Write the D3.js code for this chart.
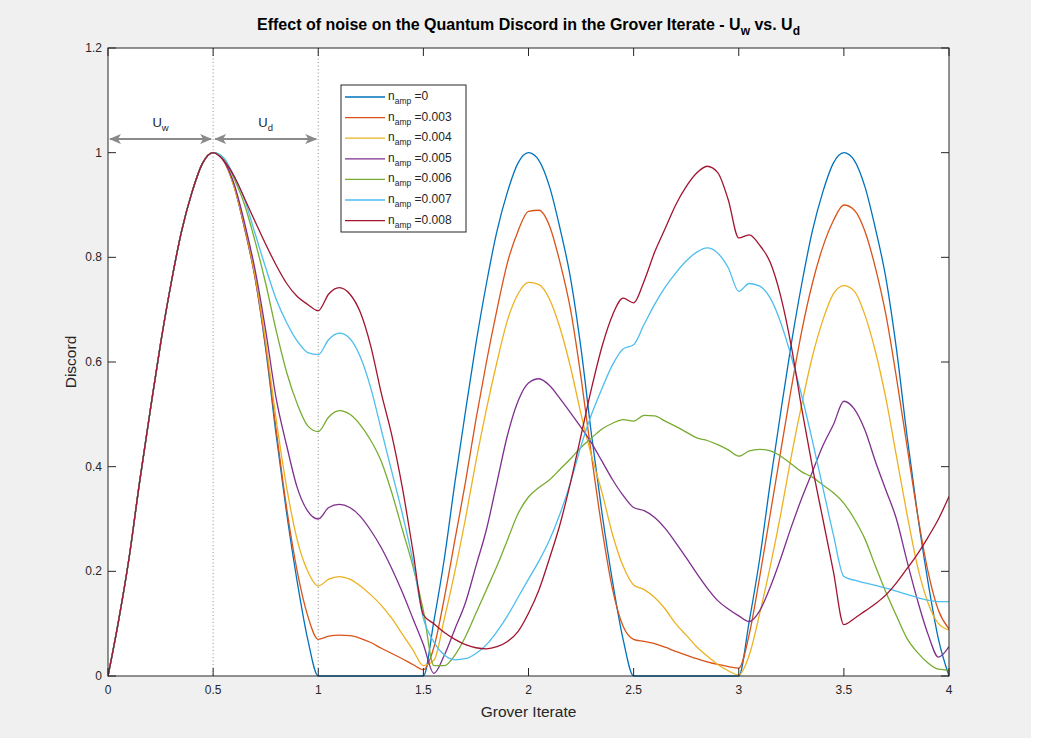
<!DOCTYPE html>
<html>
<head>
<meta charset="utf-8">
<script src="https://cdn.jsdelivr.net/npm/d3@7/dist/d3.min.js"></script>
<style>
  html, body { margin: 0; padding: 0; background: #ffffff; }
  svg { display: block; font-family: "Liberation Sans", Arial, Helvetica, sans-serif; }
</style>
</head>
<body>
<svg id="chart" width="1040" height="738"></svg>
<script>
// ---------- data ----------
const xs = [0,0.05,0.1,0.15,0.2,0.25,0.3,0.35,0.4,0.45,0.5,0.55,0.6,0.65,0.7,0.75,0.8,0.85,0.9,0.95,
  1,1.05,1.1,1.15,1.2,1.25,1.3,1.35,1.4,1.45,1.5,1.55,1.6,1.65,1.7,1.75,1.8,1.85,1.9,1.95,
  2,2.05,2.1,2.15,2.2,2.25,2.3,2.35,2.4,2.45,2.5,2.55,2.6,2.65,2.7,2.75,2.8,2.85,2.9,2.95,
  3,3.05,3.1,3.15,3.2,3.25,3.3,3.35,3.4,3.45,3.5,3.55,3.6,3.65,3.7,3.75,3.8,3.85,3.9,3.95,4];

const seriesLabels = ["0", "0.003", "0.004", "0.005", "0.006", "0.007", "0.008"];
const seriesColors = ["#0072BD", "#D95319", "#EDB120", "#7E2F8E", "#77AC30", "#4DBEEE", "#A2142F"];

const n000 = [0,0.105,0.225,0.37,0.505,0.635,0.75,0.85,0.925,0.98,1.0,
  0.985,0.935,0.855,0.76,0.625,0.46,0.31,0.18,0.07,0,
  0,0,0,0,0,0,0,0,0,0,
  0.105,0.225,0.37,0.505,0.635,0.75,0.85,0.925,0.98,1.0,
  0.985,0.935,0.855,0.76,0.625,0.46,0.31,0.18,0.07,0,
  0,0,0,0,0,0,0,0,0,0,
  0.105,0.225,0.37,0.505,0.635,0.75,0.85,0.925,0.98,1.0,
  0.985,0.935,0.855,0.76,0.625,0.46,0.31,0.18,0.07,0];

const n003 = [0,0.105,0.225,0.37,0.505,0.635,0.75,0.85,0.925,0.98,1.0,
  0.985,0.935,0.855,0.76,0.63,0.47,0.32,0.2,0.115,0.07,
  0.076,0.078,0.077,0.072,0.064,0.053,0.043,0.033,0.022,0.012,
  0.055,0.15,0.26,0.37,0.49,0.6,0.7,0.79,0.85,0.888,
  0.89,0.86,0.79,0.7,0.57,0.42,0.28,0.165,0.095,0.07,
  0.066,0.062,0.055,0.047,0.04,0.033,0.027,0.022,0.018,0.015,
  0.08,0.19,0.31,0.43,0.55,0.66,0.75,0.82,0.87,0.9,
  0.89,0.85,0.78,0.69,0.57,0.44,0.31,0.2,0.125,0.09];

const n004 = [0,0.105,0.225,0.37,0.505,0.635,0.75,0.85,0.925,0.98,1.0,
  0.985,0.935,0.86,0.765,0.64,0.49,0.36,0.26,0.2,0.172,
  0.185,0.19,0.185,0.172,0.155,0.135,0.11,0.08,0.05,0.02,
  0.03,0.11,0.2,0.3,0.41,0.51,0.6,0.68,0.73,0.752,
  0.748,0.72,0.665,0.59,0.5,0.42,0.35,0.27,0.21,0.174,
  0.165,0.15,0.128,0.1,0.078,0.056,0.038,0.022,0.01,0.002,
  0.04,0.12,0.21,0.31,0.42,0.52,0.61,0.68,0.73,0.746,
  0.735,0.69,0.62,0.53,0.42,0.31,0.21,0.14,0.1,0.088];

const n005 = [0,0.105,0.225,0.37,0.505,0.635,0.75,0.85,0.925,0.98,1.0,
  0.985,0.94,0.865,0.775,0.66,0.53,0.44,0.36,0.315,0.3,
  0.322,0.328,0.322,0.305,0.278,0.245,0.205,0.16,0.11,0.06,
  0.005,0.04,0.09,0.14,0.21,0.28,0.37,0.46,0.525,0.56,
  0.568,0.555,0.53,0.503,0.475,0.445,0.41,0.375,0.345,0.322,
  0.316,0.303,0.282,0.255,0.226,0.196,0.168,0.144,0.128,0.115,
  0.104,0.125,0.17,0.225,0.285,0.34,0.39,0.44,0.48,0.525,
  0.51,0.47,0.41,0.355,0.3,0.22,0.145,0.08,0.036,0.056];

const n006 = [0,0.105,0.225,0.37,0.505,0.635,0.75,0.85,0.925,0.98,1.0,
  0.99,0.95,0.9,0.83,0.75,0.66,0.58,0.52,0.478,0.467,
  0.495,0.507,0.5,0.48,0.45,0.41,0.35,0.28,0.21,0.125,
  0.02,0.02,0.04,0.075,0.12,0.165,0.21,0.26,0.31,0.342,
  0.36,0.375,0.395,0.415,0.437,0.455,0.472,0.483,0.49,0.487,
  0.498,0.497,0.487,0.477,0.466,0.455,0.45,0.442,0.432,0.42,
  0.43,0.433,0.43,0.42,0.405,0.39,0.38,0.365,0.35,0.33,
  0.3,0.262,0.21,0.16,0.115,0.072,0.045,0.025,0.013,0.011];

const n007 = [0,0.105,0.225,0.37,0.505,0.635,0.75,0.85,0.925,0.98,1.0,
  0.99,0.955,0.91,0.845,0.78,0.72,0.675,0.64,0.618,0.614,
  0.643,0.655,0.645,0.61,0.55,0.47,0.39,0.31,0.22,0.11,
  0.065,0.04,0.031,0.033,0.043,0.06,0.085,0.115,0.15,0.185,
  0.22,0.26,0.31,0.37,0.44,0.5,0.55,0.595,0.625,0.633,
  0.672,0.71,0.743,0.77,0.793,0.81,0.818,0.808,0.78,0.735,
  0.75,0.745,0.722,0.675,0.61,0.535,0.45,0.36,0.27,0.19,
  0.183,0.178,0.173,0.168,0.162,0.156,0.15,0.145,0.142,0.142];

const n008 = [0,0.105,0.225,0.37,0.505,0.635,0.75,0.85,0.925,0.98,1.0,
  0.985,0.955,0.912,0.868,0.825,0.785,0.75,0.725,0.71,0.698,
  0.73,0.742,0.73,0.695,0.63,0.54,0.46,0.36,0.24,0.117,
  0.1,0.083,0.07,0.06,0.054,0.052,0.056,0.066,0.085,0.12,
  0.165,0.225,0.29,0.37,0.46,0.55,0.63,0.69,0.722,0.713,
  0.755,0.81,0.855,0.9,0.935,0.961,0.974,0.962,0.91,0.837,
  0.843,0.823,0.79,0.725,0.63,0.51,0.4,0.3,0.2,0.098,
  0.11,0.124,0.138,0.155,0.178,0.205,0.233,0.265,0.3,0.343];

const seriesValues = [n000, n003, n004, n005, n006, n007, n008];

const xTicks = [0, 0.5, 1, 1.5, 2, 2.5, 3, 3.5, 4];
const xTickLabels = ["0", "0.5", "1", "1.5", "2", "2.5", "3", "3.5", "4"];
const yTicks = [0, 0.2, 0.4, 0.6, 0.8, 1, 1.2];
const yTickLabels = ["0", "0.2", "0.4", "0.6", "0.8", "1", "1.2"];

const markerX = [0.5, 1];          // dotted verticals
const arrowY = 1.026;
const regionSpans = [[0, 0.5, "U", "w"], [0.5, 1, "U", "d"]];

// ---------- layout ----------
const svg = d3.select("#chart");
const L = 108, R = 949, T = 48, B = 676;
const x = d3.scaleLinear().domain([0, 4]).range([L, R]);
const y = d3.scaleLinear().domain([0, 1.2]).range([B, T]);
const textCol = "#262626";

svg.append("rect").attr("x", 0).attr("y", 0).attr("width", 1040).attr("height", 738).attr("fill", "#ffffff");
svg.append("rect").attr("x", 0).attr("y", 0).attr("width", 1031).attr("height", 738).attr("fill", "#f0f0f0");
svg.append("rect").attr("x", L).attr("y", T).attr("width", R - L).attr("height", B - T).attr("fill", "#fff");

const defs = svg.append("defs");
defs.append("clipPath").attr("id", "clip").append("rect")
  .attr("x", L).attr("y", T - 2).attr("width", R - L).attr("height", B - T + 3);

// dotted vertical lines
svg.append("g").selectAll("line").data(markerX).join("line")
  .attr("x1", d => x(d)).attr("x2", d => x(d))
  .attr("y1", T).attr("y2", B)
  .attr("stroke", "#8c8c8c").attr("stroke-width", 1)
  .attr("stroke-dasharray", "1,2.5");

// curves
const line = d3.line().x((d, i) => x(xs[i])).y(d => y(d)).curve(d3.curveMonotoneX);
svg.append("g").attr("clip-path", "url(#clip)").selectAll("path").data(seriesValues).join("path")
  .attr("d", d => line(d))
  .attr("fill", "none")
  .attr("stroke", (d, i) => seriesColors[i])
  .attr("stroke-width", 1.3)
  .attr("stroke-linejoin", "round");

// arrows
defs.append("marker").attr("id", "ah").attr("viewBox", "0 0 12 10")
  .attr("refX", 11).attr("refY", 5).attr("markerWidth", 12).attr("markerHeight", 10)
  .attr("markerUnits", "userSpaceOnUse").attr("orient", "auto-start-reverse")
  .append("path").attr("d", "M0,0 L12,5 L0,10 L3,5 Z").attr("fill", "#8a8a8a");

const arrG = svg.append("g");
regionSpans.forEach(s => {
  arrG.append("line")
    .attr("x1", x(s[0]) + 2).attr("x2", x(s[1]) - 2)
    .attr("y1", y(arrowY)).attr("y2", y(arrowY))
    .attr("stroke", "#8a8a8a").attr("stroke-width", 2)
    .attr("marker-start", "url(#ah)").attr("marker-end", "url(#ah)");
  const t = arrG.append("text")
    .attr("x", (x(s[0]) + x(s[1])) / 2).attr("y", y(arrowY) - 12)
    .attr("text-anchor", "middle").attr("font-size", 13).attr("fill", textCol);
  t.append("tspan").text(s[2]);
  t.append("tspan").attr("font-size", 9.5).attr("dy", 4).text(s[3]);
});

// axes box
svg.append("rect").attr("x", L).attr("y", T).attr("width", R - L).attr("height", B - T)
  .attr("fill", "none").attr("stroke", textCol).attr("stroke-width", 1);

const tickLen = 8;
const tg = svg.append("g").attr("stroke", textCol).attr("stroke-width", 1);
xTicks.forEach(v => {
  tg.append("line").attr("x1", x(v)).attr("x2", x(v)).attr("y1", B).attr("y2", B - tickLen);
  tg.append("line").attr("x1", x(v)).attr("x2", x(v)).attr("y1", T).attr("y2", T + tickLen);
});
yTicks.forEach(v => {
  tg.append("line").attr("x1", L).attr("x2", L + tickLen).attr("y1", y(v)).attr("y2", y(v));
  tg.append("line").attr("x1", R).attr("x2", R - tickLen).attr("y1", y(v)).attr("y2", y(v));
});

svg.append("g").selectAll("text").data(xTicks).join("text")
  .attr("x", d => x(d)).attr("y", B + 18)
  .attr("text-anchor", "middle").attr("font-size", 12).attr("fill", textCol)
  .text((d, i) => xTickLabels[i]);
svg.append("g").selectAll("text").data(yTicks).join("text")
  .attr("x", L - 6).attr("y", d => y(d) + 4)
  .attr("text-anchor", "end").attr("font-size", 12).attr("fill", textCol)
  .text((d, i) => yTickLabels[i]);

// axis labels
svg.append("text").attr("x", (L + R) / 2).attr("y", 717)
  .attr("text-anchor", "middle").attr("font-size", 15.5).attr("fill", textCol).text("Grover Iterate");
svg.append("text").attr("transform", `translate(76,${(T + B) / 2}) rotate(-90)`)
  .attr("text-anchor", "middle").attr("font-size", 15.5).attr("fill", textCol).text("Discord");

// title
const title = svg.append("text").attr("x", (L + R) / 2).attr("y", 30)
  .attr("text-anchor", "middle").attr("font-size", 16).attr("font-weight", "bold").attr("fill", "#000");
title.append("tspan").text("Effect of noise on the Quantum Discord in the Grover Iterate - U");
title.append("tspan").attr("font-size", 12).attr("dy", 5).text("w");
title.append("tspan").attr("dy", -5).text(" vs. U");
title.append("tspan").attr("font-size", 12).attr("dy", 5).text("d");

// legend
const lg = svg.append("g");
const lgX = 341, lgY = 85, lgW = 125, lgH = 147, rowH = 20.6;
lg.append("rect").attr("x", lgX).attr("y", lgY).attr("width", lgW).attr("height", lgH)
  .attr("fill", "#fff").attr("stroke", textCol).attr("stroke-width", 1);
seriesLabels.forEach((lab, i) => {
  const cy = lgY + 12 + i * rowH;
  lg.append("line").attr("x1", lgX + 4).attr("x2", lgX + 44).attr("y1", cy).attr("y2", cy)
    .attr("stroke", seriesColors[i]).attr("stroke-width", 1.3);
  const t = lg.append("text").attr("x", lgX + 47).attr("y", cy + 3)
    .attr("font-size", 12).attr("fill", textCol);
  t.append("tspan").text("n");
  t.append("tspan").attr("font-size", 8.5).attr("dy", 4).text("amp");
  t.append("tspan").attr("dy", -4).text(" =" + lab);
});
</script>
</body>
</html>
